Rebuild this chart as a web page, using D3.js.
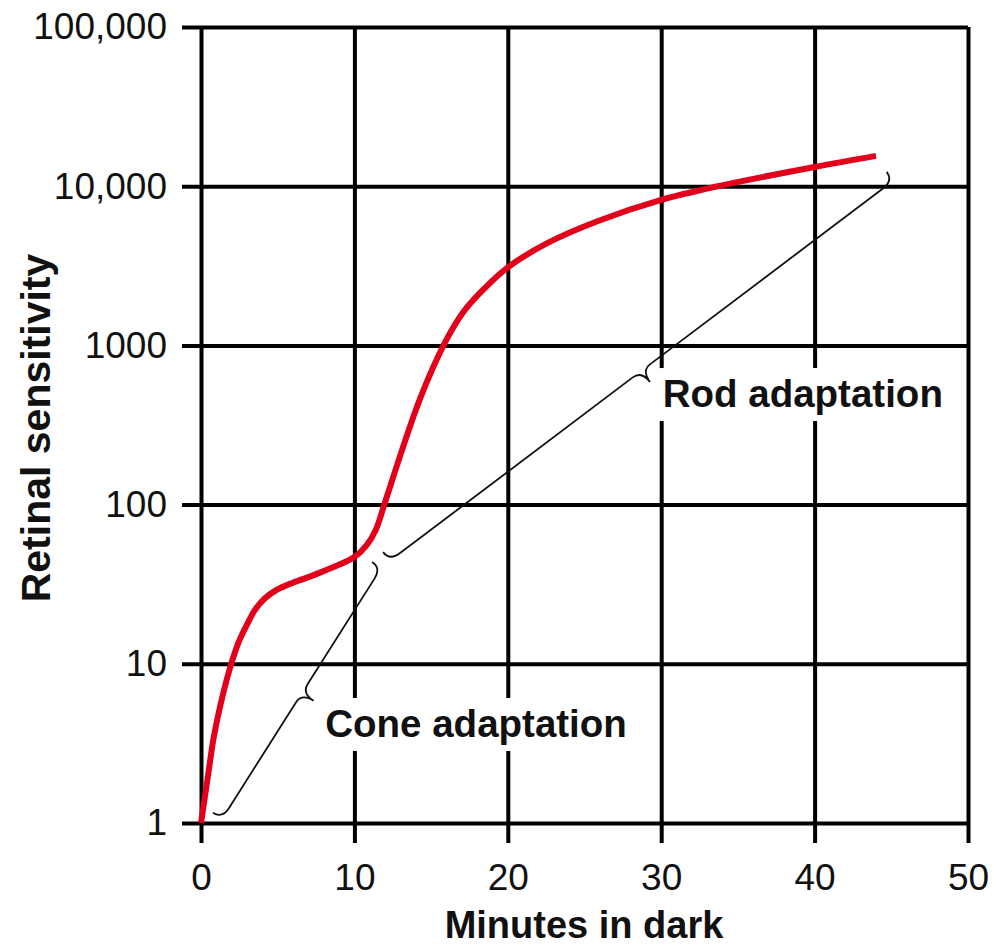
<!DOCTYPE html>
<html lang="en">
<head>
  <meta charset="utf-8">
  <title>Dark adaptation</title>
  <script src="https://cdn.jsdelivr.net/npm/d3@7"></script>
  <style>
    html, body { margin: 0; padding: 0; background: #fff; }
    svg { display: block; }
    .tick text { font-family: "Liberation Sans", Arial, sans-serif; font-size: 37px; fill: #111; }
    .tick line { stroke: #000; stroke-width: 4px; }
    .title, .note { font-family: "Liberation Sans", Arial, sans-serif; font-weight: bold; fill: #111; }
  </style>
</head>
<body>
  <svg id="chart"></svg>
  <script>
    // data
    var xTicks = [0, 10, 20, 30, 40, 50];
    var yTicks = [1, 10, 100, 1000, 10000, 100000];
    var yTickLabels = ["1", "10", "100", "1000", "10,000", "100,000"];

    // red curve: minutes in dark vs retinal sensitivity
    var minutes = [0, 0.48, 0.8, 1.24, 1.67, 2.04, 2.43, 2.98, 3.52, 4.17, 4.93, 5.91, 6.78, 7.87, 10, 10.8, 11.4, 11.95, 13.1, 14.3, 15.9, 17.1, 18.3, 20, 22.6, 25.8, 30, 33.7, 40, 44];
    var sensitivity = [1, 2.05, 3.32, 5.37, 7.9, 10.5, 13.5, 17.5, 21.8, 25.8, 29.1, 32.1, 34.4, 37.8, 46.9, 55.7, 69.6, 100, 219, 468, 1040, 1620, 2190, 3090, 4400, 6000, 8200, 10000, 13200, 15500];

    // brace endpoints [minutes, sensitivity]
    var braceNames = ["Cone adaptation", "Rod adaptation"];
    var braceStart = [[0.78, 1.16], [11.87, 50.3]];
    var braceEnd = [[11.15, 43.6], [44.7, 12300]];
    var labelAt = [[8.1, 3.47], [30.1, 410]];

    var W = 998, H = 946;
    var svg = d3.select("#chart").attr("width", W).attr("height", H);

    var x = d3.scaleLinear().domain([0, 50]).range([201, 968]);
    var y = d3.scaleLog().domain([1, 100000]).range([823, 27]);

    // vertical grid + x labels
    svg.append("g")
      .attr("transform", "translate(0," + y(100000) + ")")
      .call(d3.axisBottom(x).tickValues(xTicks).tickSize(y(1) - y(100000) + 20).tickPadding(21))
      .call(function (g) { g.select(".domain").remove(); });

    // horizontal grid + y labels
    svg.append("g")
      .attr("transform", "translate(" + x(50) + ",0)")
      .call(d3.axisLeft(y).tickValues(yTicks)
        .tickFormat(function (d, i) { return yTickLabels[i]; })
        .tickSize(x(50) - x(0) + 19).tickPadding(15))
      .call(function (g) { g.select(".domain").remove(); });

    svg.selectAll(".tick text").attr("font-family", null).attr("font-size", null);

    // white boxes behind the notes
    var notes = svg.append("g");
    var boxes = notes.append("g");
    var texts = notes.selectAll("text").data(braceNames).join("text")
      .attr("class", "note")
      .attr("font-size", 38.5)
      .attr("x", function (d, i) { return x(labelAt[i][0]); })
      .attr("y", function (d, i) { return y(labelAt[i][1]); })
      .text(function (d) { return d; });
    texts.each(function () {
      var b = this.getBBox();
      boxes.append("rect")
        .attr("x", b.x - 8).attr("y", b.y - 4)
        .attr("width", b.width + 16).attr("height", b.height + 10)
        .attr("fill", "#fff");
    });

    // red curve
    var line = d3.line()
      .x(function (d, i) { return x(minutes[i]); })
      .y(function (d) { return y(d); })
      .curve(d3.curveCatmullRom.alpha(0.5));
    svg.append("path")
      .attr("d", line(sensitivity))
      .attr("fill", "none")
      .attr("stroke", "#e2001a")
      .attr("stroke-width", 6)
      .attr("stroke-linecap", "butt");

    // curly braces
    function brace(p, q) {
      var ax = x(p[0]), ay = y(p[1]), bx = x(q[0]), by = y(q[1]);
      var len = Math.hypot(bx - ax, by - ay);
      var ux = (bx - ax) / len, uy = (by - ay) / len;
      var nx = -uy, ny = ux;
      var h = 11, w = 25, r = 13, r2 = 11;
      var mx = (ax + bx) / 2, my = (ay + by) / 2;
      function pt(px, py, a, o) { return [px + ux * a + nx * o, py + uy * a + ny * o]; }
      var p1 = pt(ax, ay, 0, h), p2 = pt(ax, ay, r, h), p3 = pt(mx, my, -r2, h);
      var c = pt(mx, my, 0, h), tip = pt(mx, my, 0, w);
      var q1 = pt(bx, by, 0, h), q2 = pt(bx, by, -r, h), q3 = pt(mx, my, r2, h);
      return "M" + ax + "," + ay + "Q" + p1 + " " + p2 + "L" + p3 + "Q" + c + " " + tip +
        "M" + bx + "," + by + "Q" + q1 + " " + q2 + "L" + q3 + "Q" + c + " " + tip;
    }
    svg.selectAll(".brace").data(braceStart).join("path")
      .attr("class", "brace")
      .attr("d", function (d, i) { return brace(d, braceEnd[i]); })
      .attr("fill", "none")
      .attr("stroke", "#111")
      .attr("stroke-width", 1.8);

    notes.raise();

    // axis titles
    svg.append("text").attr("class", "title")
      .attr("font-size", 38)
      .attr("text-anchor", "middle")
      .attr("x", 584).attr("y", 938)
      .text("Minutes in dark");
    svg.append("text").attr("class", "title")
      .attr("font-size", 41)
      .attr("text-anchor", "middle")
      .attr("transform", "translate(50,428) rotate(-90)")
      .text("Retinal sensitivity");
  </script>
</body>
</html>
